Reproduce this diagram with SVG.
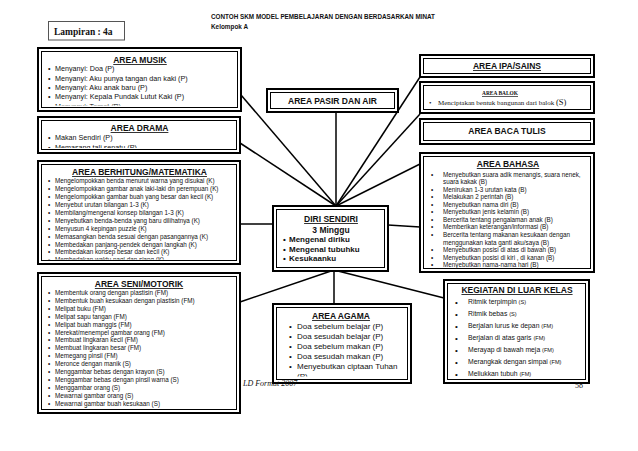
<svg xmlns="http://www.w3.org/2000/svg" width="638" height="451" viewBox="0 0 638 451">
<style>
text{font-family:"Liberation Sans",Arial,sans-serif;fill:#111}
.o{fill:#fff;stroke:#000;stroke-width:2}
.i{fill:none;stroke:#000;stroke-width:1}
.t{font-weight:bold;font-size:8.5px;text-anchor:middle;text-decoration:underline}
.tn{font-weight:bold;font-size:8.5px;text-anchor:middle}
.s7{font-size:7.2px}
.s6{font-size:6.3px}
.s8{font-size:8px}
.sf{font-family:"Liberation Serif","Times New Roman",serif}
.c line{stroke:#000;stroke-width:1.5}
</style>
<defs>
<clipPath id="cMusik"><rect x="42" y="52" width="195" height="53.5"/></clipPath>
<clipPath id="cDrama"><rect x="42" y="121" width="194" height="27"/></clipPath>
<clipPath id="cHit"><rect x="42" y="165" width="194" height="94.5"/></clipPath>
<clipPath id="cAgama"><rect x="277" y="308" width="130" height="68.5"/></clipPath>
</defs>
<rect width="638" height="451" fill="#fff"/>

<g id="title">
<text x="211" y="19" font-size="7.5" font-weight="bold" textLength="224" lengthAdjust="spacingAndGlyphs">CONTOH SKM MODEL PEMBELAJARAN DENGAN BERDASARKAN MINAT</text>
<text x="211" y="29" font-size="7.5" font-weight="bold" textLength="37" lengthAdjust="spacingAndGlyphs">Kelompok A</text>
</g>

<g id="lampiran">
<rect x="48.5" y="21.5" width="76" height="18.5" fill="#fff" stroke="#555" stroke-width="1"/>
<text class="sf" x="54" y="34.5" font-size="9.5" font-weight="bold">Lampiran : 4a</text>
</g>

<g class="c" id="connectors">
<line x1="241" y1="95" x2="336" y2="206"/>
<line x1="240" y1="143" x2="336" y2="206"/>
<line x1="336" y1="112" x2="336" y2="206"/>
<line x1="420" y1="77" x2="336" y2="206"/>
<line x1="420" y1="114" x2="336" y2="206"/>
<line x1="422" y1="163" x2="336" y2="206"/>
<line x1="240" y1="224" x2="273" y2="224"/>
<line x1="388" y1="225" x2="420" y2="227"/>
<line x1="240" y1="302" x2="334" y2="270"/>
<line x1="334" y1="270" x2="334" y2="304"/>
<line x1="334" y1="270" x2="444" y2="298"/>
</g>

<g id="musik">
<rect class="o" x="38" y="48" width="203" height="63"/>
<rect class="i" x="41.5" y="51.5" width="196" height="56"/>
<text class="t" x="140" y="63">AREA MUSIK</text>
<g clip-path="url(#cMusik)" class="s7">
<text x="48" y="71">•</text><text x="55" y="71">Menyanyi: Doa  (P)</text>
<text x="48" y="80.5">•</text><text x="55" y="80.5">Menyanyi: Aku punya tangan dan kaki (P)</text>
<text x="48" y="90">•</text><text x="55" y="90">Menyanyi: Aku anak baru (P)</text>
<text x="48" y="99">•</text><text x="55" y="99">Menyanyi: Kepala Pundak Lutut Kaki (P)</text>
<text x="48" y="108.5">•</text><text x="55" y="108.5">Menyanyi: Tomat (P)</text>
</g>
</g>

<g id="drama">
<rect class="o" x="38" y="117" width="202" height="36"/>
<rect class="i" x="41.5" y="120.5" width="195" height="29"/>
<text class="t" x="139.5" y="131">AREA DRAMA</text>
<g clip-path="url(#cDrama)" class="s7">
<text x="48" y="140">•</text><text x="55" y="140">Makan Sendiri (P)</text>
<text x="48" y="149.5">•</text><text x="55" y="149.5">Memasang tali sepatu (P)</text>
</g>
</g>

<g id="berhitung">
<rect class="o" x="38" y="161" width="202" height="103"/>
<rect class="i" x="41.5" y="164.5" width="195" height="96"/>
<text class="t" x="139.5" y="175" font-size="8.3">AREA BERHITUNG/MATEMATIKA</text>
<g clip-path="url(#cHit)" class="s6">
<text x="48" y="183">•</text><text x="55" y="183">Mengelompokkan benda menurut warna yang disukai  (K)</text>
<text x="48" y="191">•</text><text x="55" y="191">Mengelompokkan gambar anak laki-laki dn perempuan (K)</text>
<text x="48" y="199">•</text><text x="55" y="199">Mengelompokkan gambar buah yang besar dan kecil (K)</text>
<text x="48" y="207">•</text><text x="55" y="207">Menyebut urutan bilangan 1-3 (K)</text>
<text x="48" y="215">•</text><text x="55" y="215">Membilang/mengenal konsep bilangan 1-3 (K)</text>
<text x="48" y="223">•</text><text x="55" y="223">Menyebutkan benda-benda yang baru dilihatnya (K)</text>
<text x="48" y="231">•</text><text x="55" y="231">Menyusun 4 kepingan puzzle (K)</text>
<text x="48" y="239">•</text><text x="55" y="239">Memasangkan benda sesuai dengan pasangannya (K)</text>
<text x="48" y="246.5">•</text><text x="55" y="246.5">Membedakan panjang-pendek dengan langkah (K)</text>
<text x="48" y="254">•</text><text x="55" y="254">Membedakan konsep besar dan kecil (K)</text>
<text x="48" y="262">•</text><text x="55" y="262">Membedakan waktu pagi dan siang (K)</text>
</g>
</g>

<g id="seni">
<rect class="o" x="38" y="273" width="202" height="140"/>
<rect class="i" x="41.5" y="276.5" width="195" height="133"/>
<text class="t" x="139" y="287" font-size="7.8">AREA SENI/MOTORIK</text>
<g class="s6">
<text x="48" y="295">•</text><text x="55" y="295">Membentuk orang dengan plastisin (FM)</text>
<text x="48" y="302.9">•</text><text x="55" y="302.9">Membentuk buah  kesukaan dengan plastisin (FM)</text>
<text x="48" y="310.8">•</text><text x="55" y="310.8">Melipat buku (FM)</text>
<text x="48" y="318.7">•</text><text x="55" y="318.7">Melipat sapu tangan (FM)</text>
<text x="48" y="326.6">•</text><text x="55" y="326.6">Melipat buah manggis (FM)</text>
<text x="48" y="334.5">•</text><text x="55" y="334.5">Merekat/menempel gambar orang (FM)</text>
<text x="48" y="342.4">•</text><text x="55" y="342.4">Membuat lingkaran kecil (FM)</text>
<text x="48" y="350.3">•</text><text x="55" y="350.3">Membuat lingkaran besar (FM)</text>
<text x="48" y="358.2">•</text><text x="55" y="358.2">Memegang pinsil (FM)</text>
<text x="48" y="366.1">•</text><text x="55" y="366.1">Meronce dengan manik (S)</text>
<text x="48" y="374">•</text><text x="55" y="374">Menggambar bebas dengan krayon (S)</text>
<text x="48" y="381.9">•</text><text x="55" y="381.9">Menggambar bebas dengan pinsil warna (S)</text>
<text x="48" y="389.8">•</text><text x="55" y="389.8">Menggambar orang (S)</text>
<text x="48" y="397.7">•</text><text x="55" y="397.7">Mewarnai gambar orang (S)</text>
<text x="48" y="405.6">•</text><text x="55" y="405.6">Mewarnai gambar buah kesukaan (S)</text>
</g>
</g>

<g id="pasir">
<rect class="o" x="267" y="89" width="131" height="23"/>
<rect class="i" x="270.5" y="92.5" width="124" height="16"/>
<text class="tn" x="332.5" y="104">AREA PASIR DAN AIR</text>
</g>

<g id="diri">
<rect class="o" x="273" y="206" width="115" height="65"/>
<rect class="i" x="276.5" y="209.5" width="108" height="58"/>
<text class="t" x="331" y="222">DIRI SENDIRI</text>
<text class="tn" x="331" y="233">3 Minggu</text>
<g font-size="8" font-weight="bold">
<text x="283" y="242">•</text><text x="289" y="242">Mengenal diriku</text>
<text x="283" y="251.5">•</text><text x="289" y="251.5">Mengenal tubuhku</text>
<text x="283" y="260.5">•</text><text x="289" y="260.5">Kesukaanku</text>
</g>
</g>

<g id="agama">
<rect class="o" x="273" y="304" width="138" height="79"/>
<rect class="i" x="276.5" y="307.5" width="131" height="72"/>
<text class="t" x="341" y="319" font-size="9">AREA AGAMA</text>
<g clip-path="url(#cAgama)" class="s8">
<text x="289" y="329">•</text><text x="297" y="329">Doa sebelum belajar (P)</text>
<text x="289" y="339">•</text><text x="297" y="339">Doa sesudah belajar (P)</text>
<text x="289" y="349">•</text><text x="297" y="349">Doa sebelum makan (P)</text>
<text x="289" y="359">•</text><text x="297" y="359">Doa sesudah makan (P)</text>
<text x="289" y="369">•</text><text x="297" y="369">Menyebutkan ciptaan Tuhan</text>
<text x="297" y="379">(P)</text>
</g>
</g>

<g id="ipa">
<rect class="o" x="420" y="55" width="174" height="22"/>
<rect class="i" x="423.5" y="58.5" width="167" height="15"/>
<text class="t" x="507" y="69" font-size="8">AREA IPA/SAINS</text>
</g>

<g id="balok">
<rect class="o" x="420" y="82" width="174" height="31"/>
<rect class="i" x="423.5" y="85.5" width="167" height="24"/>
<text class="sf" x="500" y="95" font-size="6.8" font-weight="bold" text-anchor="middle" text-decoration="underline" textLength="36" lengthAdjust="spacingAndGlyphs">AREA BALOK</text>
<text class="sf" x="429" y="104.5" font-size="7">•</text>
<text class="sf" x="438" y="104.5" font-size="7">Menciptakan bentuk bangunan dari balok <tspan font-size="8.5">(S)</tspan></text>
</g>

<g id="baca">
<rect class="o" x="420" y="119" width="174" height="25"/>
<rect class="i" x="423.5" y="122.5" width="167" height="18"/>
<text class="tn" x="507" y="133.5" font-size="8">AREA BACA TULIS</text>
</g>

<g id="bahasa">
<rect class="o" x="420" y="153" width="174" height="119"/>
<rect class="i" x="423.5" y="156.5" width="167" height="112"/>
<text class="t" x="508" y="167" font-size="8.4">AREA BAHASA</text>
<g class="s6">
<text x="431" y="176.5">•</text><text x="443" y="176.5">Menyebutkan suara adik menangis, suara nenek,</text>
<text x="443" y="184">suara kakak (B)</text>
<text x="431" y="191.6">•</text><text x="443" y="191.6">Menirukan 1-3 urutan kata (B)</text>
<text x="431" y="199.1">•</text><text x="443" y="199.1">Melakukan 2 perintah (B)</text>
<text x="431" y="206.7">•</text><text x="443" y="206.7">Menyebutkan nama diri (B)</text>
<text x="431" y="214.2">•</text><text x="443" y="214.2">Menyebutkan jenis kelamin (B)</text>
<text x="431" y="221.8">•</text><text x="443" y="221.8">Bercerita tentang pengalaman anak (B)</text>
<text x="431" y="229.4">•</text><text x="443" y="229.4">Memberikan keterangan/informasi (B)</text>
<text x="431" y="236.9">•</text><text x="443" y="236.9">Bercerita tentang makanan kesukaan dengan</text>
<text x="443" y="244.5">menggunakan kata ganti aku/saya (B)</text>
<text x="431" y="252">•</text><text x="443" y="252">Menyebutkan posisi di atas di bawah (B)</text>
<text x="431" y="259.6">•</text><text x="443" y="259.6">Menyebutkan posisi di kiri , di kanan (B)</text>
<text x="431" y="267.1">•</text><text x="443" y="267.1">Menyebutkan nama-nama hari (B)</text>
</g>
</g>

<g id="kegiatan">
<rect class="o" x="444" y="280" width="145" height="103"/>
<rect class="i" x="447.5" y="283.5" width="138" height="96"/>
<text class="t" x="517" y="293" font-size="6.8">KEGIATAN DI LUAR KELAS</text>
<g font-size="6.8">
<text x="455" y="304.5" font-size="8">•</text><text x="468" y="304">Ritmik terpimpin <tspan font-size="5.6">(S)</tspan></text>
<text x="455" y="316.5" font-size="8">•</text><text x="468" y="316">Ritmik bebas <tspan font-size="5.6">(S)</tspan></text>
<text x="455" y="328.5" font-size="8">•</text><text x="468" y="328">Berjalan lurus ke depan <tspan font-size="5.6">(FM)</tspan></text>
<text x="455" y="340.5" font-size="8">•</text><text x="468" y="340">Berjalan di atas garis <tspan font-size="5.6">(FM)</tspan></text>
<text x="455" y="352.5" font-size="8">•</text><text x="468" y="352">Merayap di bawah meja <tspan font-size="5.6">(FM)</tspan></text>
<text x="455" y="364.5" font-size="8">•</text><text x="468" y="364">Merangkak dengan simpai <tspan font-size="5.6">(FM)</tspan></text>
<text x="455" y="376.5" font-size="8">•</text><text x="468" y="376">Meliukkan tubuh <tspan font-size="5.6">(FM)</tspan></text>
</g>
</g>

<g id="footer">
<text class="sf" x="243" y="386" font-size="8" font-style="italic" fill="#555">LD Format 2007</text>
<text class="sf" x="575" y="388" font-size="8" fill="#555">58</text>
</g>
</svg>
